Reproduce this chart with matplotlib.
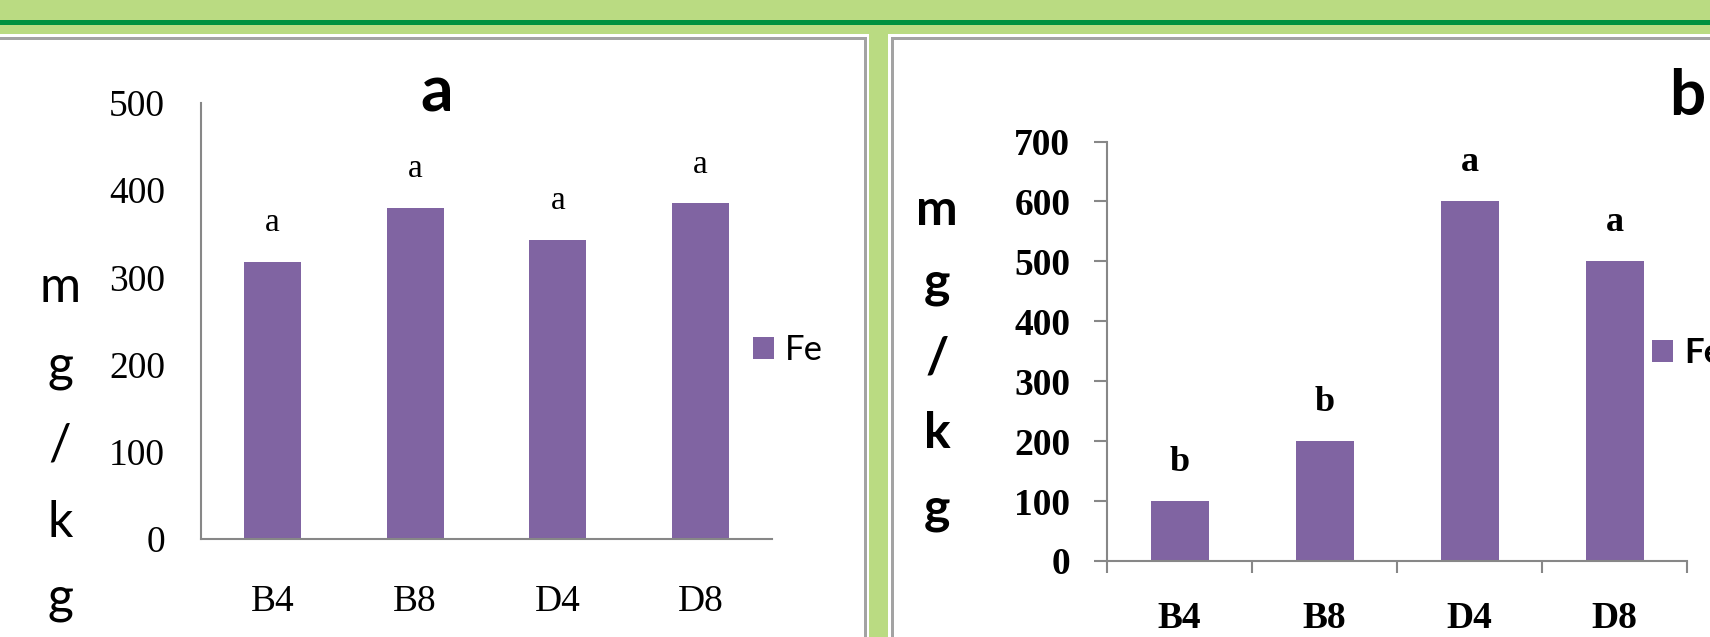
import matplotlib as mpl; mpl.use("Agg")
import matplotlib.pyplot as plt
from matplotlib.patches import Rectangle
import numpy as np

W, H = 1710, 637
cats = ["B4", "B8", "D4", "D8"]
fe_a = [318, 380, 343, 385]
fe_b = [100, 200, 600, 500]
sig_a = ["a", "a", "a", "a"]
sig_b = ["b", "b", "a", "a"]
ylab = ["m", "g", "/", "k", "g"]

PURPLE = "#8064A2"; AX = "#878787"
LGREEN = "#BADB82"; DGREEN = "#00913F"; BORDER = "#A3A3A3"

fig = plt.figure(figsize=(W/100, H/100), dpi=100)
fig.patch.set_facecolor(LGREEN)


def rect(x0, y0, x1, y1, c):
    # pixel box (top-down y) -> figure patch
    fig.add_artist(Rectangle((x0/W, 1-y1/H), (x1-x0)/W, (y1-y0)/H, transform=fig.transFigure,
                             facecolor=c, edgecolor="none", zorder=-5))


def place(x0, y_top, x1, y_bot):
    return fig.add_axes([x0/W, 1-y_bot/H, (x1-x0)/W, (y_bot-y_top)/H])


# frame
rect(-10, 20, W+10, 25, DGREEN)
for x0, x1 in [(-10, 869), (888, W+10)]:
    rect(x0, 34, x1, H+10, "white")
for x0, x1 in [(-10, 867), (891, W+10)]:
    rect(x0, 37, x1, H+10, BORDER)
rect(-10, 40, 864, H+10, "white")
rect(894, 40, W+10, H+10, "white")

serif = "Liberation Serif"; sans = "Lato"


def panel(ax, vals, sig, ymax, bold, ticks_out):
    fw = "bold" if bold else "normal"
    x = np.arange(len(cats))
    ax.bar(x, vals, width=0.4, color=PURPLE, label="Fe", zorder=2)
    ax.set_xlim(-0.5, len(cats)-0.5); ax.set_ylim(0, ymax)
    ax.patch.set_visible(False)
    for s in ["top", "right"]: ax.spines[s].set_visible(False)
    for s in ["left", "bottom"]:
        ax.spines[s].set_color(AX); ax.spines[s].set_linewidth(1.5)
    ax.set_yticks(np.arange(0, ymax+1, 100))
    ax.set_xticks(x); ax.set_xticklabels(cats)
    for t in ax.get_xticklabels() + ax.get_yticklabels():
        t.set_fontfamily(serif); t.set_fontsize(27); t.set_fontweight(fw)
    if ticks_out:
        ax.tick_params(axis="y", length=9.4, width=1.5, color=AX, pad=17)
        ax.set_xticks(np.arange(0, len(cats)+1)-0.5, minor=True)
        ax.tick_params(axis="x", which="minor", length=8.6, width=1.5, color=AX)
        ax.tick_params(axis="x", which="major", length=0, pad=29)
    else:
        ax.tick_params(axis="y", length=0, pad=26)
        ax.tick_params(axis="x", length=0, pad=33)
    for i, (v, s) in enumerate(zip(vals, sig)):
        ax.annotate(s, (i, v), xytext=(0, 28), textcoords="offset points", ha="center", va="center",
                    fontfamily=serif, fontsize=26 if bold else 24, fontweight=fw)


axa = place(201, 103, 772, 539)
panel(axa, fe_a, sig_a, 500, False, False)
axb = place(1107, 141.5, 1687, 561)
panel(axb, fe_b, sig_b, 700, True, True)

# legends
for ax, xs, ys, fw in [(axa, 753, 350, "normal"), (axb, 1652, 353, "bold")]:
    ax.legend(loc="center left", bbox_to_anchor=(xs/W, 1-ys/H), bbox_transform=fig.transFigure,
              frameon=False, borderpad=0, borderaxespad=0, handlelength=0.6, handleheight=0.6,
              handletextpad=0.33, prop=dict(family=sans, size=25, weight=fw))

# vertical unit labels and panel titles
for xc, bases, fw in [(60, [302, 380, 459, 537, 613], "normal"), (937, [225, 298, 372, 448, 524], "bold")]:
    for ch, yb in zip(ylab, bases):
        fig.text(xc/W, 1-yb/H, ch, ha="center", va="baseline", fontfamily=sans, fontsize=36, fontweight=fw)
fig.text(437/W, 1-112/H, "a", ha="center", va="baseline", fontfamily=sans, fontsize=46, fontweight="bold")
fig.text(1687/W, 1-115/H, "b", ha="center", va="baseline", fontfamily=sans, fontsize=46, fontweight="bold")

fig.savefig("out.png", dpi=100, facecolor=fig.get_facecolor())
